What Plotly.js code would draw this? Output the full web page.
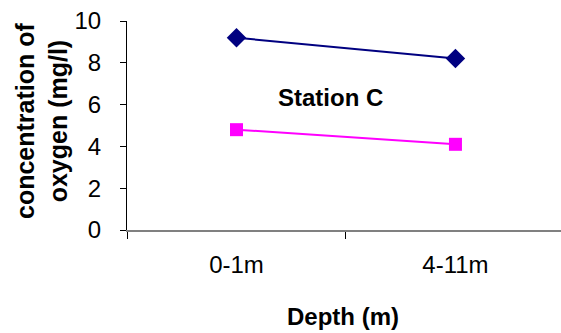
<!DOCTYPE html>
<html>
<head>
<meta charset="utf-8">
<script src="https://cdn.plot.ly/plotly-3.0.1.min.js"></script>
<style>html,body{margin:0;padding:0;background:#fff;}#chart{width:561px;height:333px;}</style>
</head>
<body>
<div id="chart"></div>
<script>
var categories = ["0-1m", "4-11m"];
var seriesA = [9.2, 8.2];
var seriesB = [4.8, 4.1];
var yTicks = [0, 2, 4, 6, 8, 10];

var font = "Liberation Sans, Arial, sans-serif";
var traces = [
  {x: categories, y: seriesA, type: "scatter", mode: "lines+markers",
   line: {color: "#000080", width: 2}, marker: {symbol: "diamond", size: 15, color: "#000080"}},
  {x: categories, y: seriesB, type: "scatter", mode: "lines+markers",
   line: {color: "#FF00FF", width: 2}, marker: {symbol: "square", size: 13, color: "#FF00FF"}}
];
var L = 127, W = 434, T = 21, H = 209;
function px(x) { return (x - L) / W; }
function py(y) { return (T + H - y) / H; }
var layout = {
  width: 561, height: 333,
  margin: {l: L, r: 0, t: T, b: 333 - T - H},
  paper_bgcolor: "#fff", plot_bgcolor: "#fff",
  showlegend: false,
  font: {family: font, color: "#000"},
  xaxis: {
    type: "category", range: [-0.5, 1.482],
    showline: true, linecolor: "#808080", linewidth: 1.5,
    ticks: "outside", tickson: "boundaries", ticklen: 7, tickcolor: "#000", tickwidth: 1,
    tickfont: {size: 24, family: font}, ticklabelstandoff: 13,
    showgrid: false, zeroline: false
  },
  yaxis: {
    range: [0, 10], tickvals: yTicks, ticktext: yTicks.map(String),
    showline: true, linecolor: "#000", linewidth: 1,
    ticks: "outside", ticklen: 6, tickcolor: "#000",
    tickfont: {size: 24, family: font}, ticklabelstandoff: 14,
    showgrid: false, zeroline: false
  },
  annotations: [
    {text: "<b>Station C</b>", xref: "paper", yref: "paper",
     x: px(330), y: py(97), xanchor: "center", yanchor: "middle", showarrow: false,
     font: {size: 24, family: font, color: "#000"}},
    {text: "<b>Depth (m)</b>", xref: "paper", yref: "paper",
     x: px(343), y: py(316), xanchor: "center", yanchor: "middle", showarrow: false,
     font: {size: 24, family: font, color: "#000"}},
    {text: "<b>concentration of<br>oxygen (mg/l)</b>", xref: "paper", yref: "paper",
     x: px(41), y: py(121), xanchor: "center", yanchor: "middle", showarrow: false, textangle: -90,
     font: {size: 25, family: font, color: "#000"}}
  ]
};
Plotly.newPlot("chart", traces, layout, {displayModeBar: false, staticPlot: true});
</script>
</body>
</html>
